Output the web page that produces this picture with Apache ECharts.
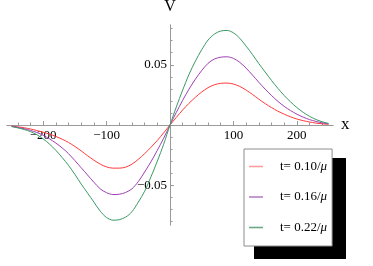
<!DOCTYPE html>
<html><head><meta charset="utf-8">
<script src="https://cdn.jsdelivr.net/npm/echarts@6/dist/echarts.min.js"></script>
<style>html,body{margin:0;padding:0;background:#fff}#c{width:373px;height:266px}</style>
</head><body><div id="c"></div>
<script>
const xValues = [-250,-240,-230,-220,-210,-200,-190,-180,-170,-160,-150,-140,-130,-120,-110,-100,-90,-80,-70,-60,-50,-40,-30,-20,-10,0,10,20,30,40,50,60,70,80,90,100,110,120,130,140,150,160,170,180,190,200,210,220,230,240,250];
const vT010 = [-0.0008,-0.0015,-0.0023,-0.0033,-0.0046,-0.006,-0.0076,-0.0095,-0.0118,-0.0145,-0.0178,-0.0215,-0.0255,-0.0292,-0.0325,-0.0348,-0.0358,-0.0358,-0.035,-0.0325,-0.0285,-0.0238,-0.0185,-0.0128,-0.0065,0,0.0063,0.0125,0.018,0.023,0.0274,0.031,0.0334,0.0346,0.0348,0.034,0.032,0.029,0.0254,0.0215,0.0178,0.0145,0.0115,0.009,0.0068,0.005,0.0036,0.0025,0.0016,0.001,0.0005];
const vT016 = [-0.0011,-0.002,-0.0031,-0.0045,-0.0062,-0.0085,-0.0115,-0.015,-0.019,-0.0238,-0.0295,-0.0355,-0.0415,-0.0475,-0.053,-0.0562,-0.0577,-0.0575,-0.056,-0.053,-0.047,-0.039,-0.0305,-0.021,-0.011,0,0.0105,0.0205,0.0298,0.038,0.0452,0.0512,0.0548,0.0563,0.0566,0.0553,0.052,0.0472,0.0415,0.0355,0.0298,0.0245,0.0197,0.0155,0.012,0.009,0.0065,0.0045,0.003,0.0018,0.001];
const vT022 = [-0.0013,-0.0024,-0.0037,-0.0055,-0.008,-0.0115,-0.0158,-0.021,-0.027,-0.0335,-0.041,-0.049,-0.0565,-0.064,-0.0715,-0.0768,-0.079,-0.0786,-0.0765,-0.072,-0.064,-0.055,-0.043,-0.030,-0.016,0,0.015,0.029,0.042,0.053,0.0625,0.0705,0.0755,0.078,0.0785,0.0765,0.072,0.0655,0.0585,0.051,0.044,0.037,0.0305,0.0245,0.0192,0.0145,0.0105,0.0072,0.0046,0.0027,0.0013];
const seriesNames = ['t= 0.10/', 't= 0.16/', 't= 0.22/'];
const xMajorTicks = [-200,-100,100,200];
const xTickLabels = ['\u2212200','\u2212100','100','200'];
const yMajorTicks = [-0.05,0.05];
const yTickLabels = ['\u22120.05','0.05'];

const xMinor = []; for (let v=-240; v<=240; v+=20) if (v%100!==0) xMinor.push(v);
const yMinor = []; for (let k=-8; k<=8; k++) if (k!==0 && k!==5 && k!==-5) yMinor.push(k/100);

const colors = ['#ff3a3a','#a040b4','#3a9a64'];
const legendColors = ['#ffa0a0','#b783c8','#6fa987'];
const font = 'Liberation Serif';
const axisColor = '#9a9a9a';
const pairs = vals => xValues.map((x,i)=>[x, vals[i]]);
const X = {min:-257,max:257};
const Y = {min:-0.083,max:0.083};
const G = {left:7,right:40,top:25,bottom:41};
const W = 373 - G.left - G.right, H = 266 - G.top - G.bottom;
// offsets that bring each axis to the other axis' zero
const xOff = -(H * (0 - Y.min) / (Y.max - Y.min));
const yOff = -(W * (0 - X.min) / (X.max - X.min));

const chart = echarts.init(document.getElementById('c'), null, {renderer:'canvas'});
chart.setOption({
  animation:false,
  backgroundColor:'#fff',
  grid:{left:G.left,right:G.right,top:G.top,bottom:G.bottom,containLabel:false,outerBoundsMode:'none'},
  xAxis:[{
    type:'value', min:X.min, max:X.max, position:'bottom', offset:xOff,
    axisLine:{onZero:false,lineStyle:{color:axisColor,width:1}},
    axisTick:{show:true,inside:true,length:4,lineStyle:{color:axisColor},customValues:xMajorTicks},
    axisLabel:{show:true,margin:4,color:'#000',fontFamily:font,fontSize:13,customValues:xMajorTicks,
      formatter:v=>xTickLabels[xMajorTicks.indexOf(Math.round(v))]||''},
    splitLine:{show:false},
    name:'x', nameLocation:'end', nameGap:8,
    nameTextStyle:{fontFamily:font,fontSize:17,color:'#000',verticalAlign:'middle',padding:[0,0,1,0]}
  },{
    type:'value', min:X.min, max:X.max, position:'bottom', offset:xOff,
    axisLine:{onZero:false,lineStyle:{color:axisColor,width:1}},
    axisTick:{show:true,inside:true,length:2.5,lineStyle:{color:axisColor},customValues:xMinor},
    axisLabel:{show:false}, splitLine:{show:false}
  }],
  yAxis:[{
    type:'value', min:Y.min, max:Y.max, position:'left', offset:yOff,
    axisLine:{onZero:false,lineStyle:{color:axisColor,width:1}},
    axisTick:{show:true,inside:true,length:4,lineStyle:{color:axisColor},customValues:yMajorTicks},
    axisLabel:{show:true,margin:3,color:'#000',fontFamily:font,fontSize:13,customValues:yMajorTicks,
      formatter:v=>yTickLabels[v<0?0:1]},
    splitLine:{show:false},
    name:'V', nameLocation:'end', nameGap:10,
    nameTextStyle:{fontFamily:font,fontSize:16,color:'#000'}
  },{
    type:'value', min:Y.min, max:Y.max, position:'left', offset:yOff,
    axisLine:{onZero:false,lineStyle:{color:axisColor,width:1}},
    axisTick:{show:true,inside:true,length:2.5,lineStyle:{color:axisColor},customValues:yMinor},
    axisLabel:{show:false}, splitLine:{show:false}
  }],
  graphic:[{type:'rect',left:254,top:158,shape:{width:92,height:101},style:{fill:'#000'},z:0}],
  legend:{
    orient:'vertical', left:244, top:149, width:93,
    padding:[11,5,12,5], itemGap:17.5, itemWidth:14, itemHeight:14,
    backgroundColor:'#fff', borderColor:'#8c8c8c', borderWidth:1,
    textStyle:{fontFamily:font,fontSize:13,color:'#000',padding:[0,0,0,12],
      rich:{a:{fontFamily:font,fontSize:13,color:'#000'},b:{fontFamily:font,fontSize:13,fontStyle:'italic',color:'#000'}}},
    formatter:n=>'{a|'+n+'}{b|\u03bc}',
    data:seriesNames.map((n,i)=>({name:n,icon:'path://M0,0L14,0L14,1.6L0,1.6Z',itemStyle:{color:legendColors[i]}}))
  },
  series:[vT010,vT016,vT022].map((vals,i)=>({
    name:seriesNames[i], type:'line', smooth:0.3, symbol:'none',
    xAxisIndex:0, yAxisIndex:0, data:pairs(vals),
    lineStyle:{color:colors[i],width:1}, itemStyle:{color:colors[i]}, z:3
  }))
});
</script></body></html>
